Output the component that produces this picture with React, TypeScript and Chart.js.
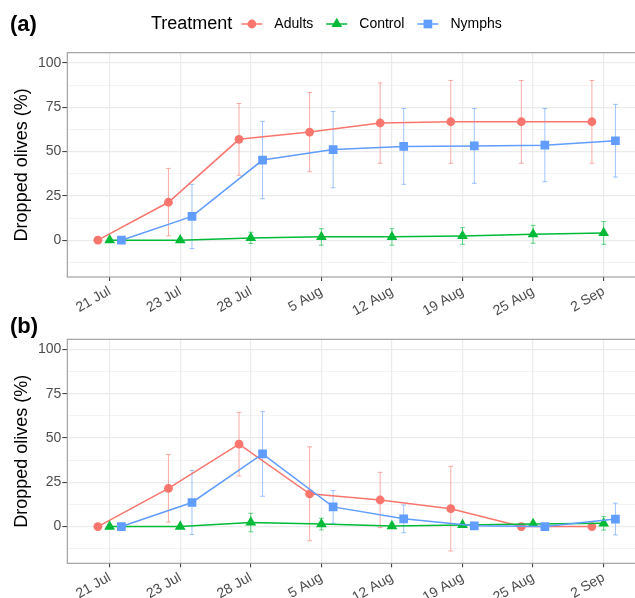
import React, { useEffect, useRef } from "react";
import { Chart, registerables } from "chart.js";

Chart.register(...registerables);

// ---------- data ----------
const categories = ["21 Jul", "23 Jul", "28 Jul", "5 Aug", "12 Aug", "19 Aug", "25 Aug", "2 Sep"];
const seriesNames = ["Adults", "Control", "Nymphs"];
const yTickValues = [-12.5, 0, 12.5, 25, 37.5, 50, 62.5, 75, 87.5, 100];
const yMajorTicks = [0, 25, 50, 75, 100];
const yTitle = "Dropped olives (%)";
const legendTitle = "Treatment";

// Panel (a)
const adultsA = [0, 21.4, 56.9, 61.0, 66.1, 66.8, 66.8, 66.8];
const adultsALow = [0, 2.4, 36.6, 38.6, 43.4, 43.4, 43.4, 43.4];
const adultsAHigh = [0, 40.5, 77.1, 83.3, 88.7, 90.1, 90.1, 90.1];
const controlA = [0, 0, 1.3, 1.9, 1.9, 2.4, 3.4, 4.1];
const controlALow = [0, 0, -1.9, -2.8, -2.8, -2.3, -1.7, -2.3];
const controlAHigh = [0, 0, 4.5, 6.5, 6.5, 7.1, 8.4, 10.5];
const nymphsA = [0, 13.4, 45.2, 51.1, 52.9, 53.2, 53.6, 56.1];
const nymphsALow = [0, -4.7, 23.4, 29.6, 31.5, 32.1, 33.0, 35.6];
const nymphsAHigh = [0, 31.5, 67.0, 72.6, 74.3, 74.3, 74.3, 76.6];

// Panel (b)
const adultsB = [0, 21.6, 46.5, 18.5, 15.0, 10.1, 0, 0];
const adultsBLow = [0, 2.5, 28.5, -8.0, -0.6, -13.8, 0, 0];
const adultsBHigh = [0, 40.7, 64.5, 45.0, 30.6, 34.0, 0, 0];
const controlB = [0, 0, 2.3, 1.4, 0.3, 0.9, 1.5, 1.8];
const controlBLow = [0, 0, -3.0, -1.9, 0.3, 0.9, 1.5, -2.0];
const controlBHigh = [0, 0, 7.5, 4.7, 0.3, 0.9, 1.5, 5.6];
const nymphsB = [0, 13.6, 41.0, 11.1, 4.35, 0.4, 0, 4.25];
const nymphsBLow = [0, -4.5, 17.1, 1.9, -3.5, 0.4, 0, -4.7];
const nymphsBHigh = [0, 31.7, 64.9, 20.3, 12.2, 0.4, 0, 13.2];

// ---------- styles ----------
const FONT = '"Liberation Sans", Arial, Helvetica, sans-serif';
const COLORS = ["#F8766D", "#00BA38", "#619CFF"];
const ERR_COLORS = ["rgba(248,118,109,0.6)", "rgba(0,186,56,0.6)", "rgba(97,156,255,0.6)"];
const DODGE = [-1 / 6, 0, 1 / 6];
const POINT_STYLES = ["circle", "triangle", "rect"];
const POINT_RADII = [4.4, 6.2, 6.15];
const CAP_HALF = 0.034;
const Y_MIN = -20.75;
const Y_MAX = 105.75;
const X_MIN = -0.6;
const X_MAX = 7.444;

const errorBarPlugin = {
  id: "errorBars",
  beforeDatasetsDraw(chart: any) {
    const { ctx } = chart;
    const xs = chart.scales.x;
    const ys = chart.scales.y;
    ctx.save();
    chart.data.datasets.forEach((ds: any) => {
      const lows = ds.errLow as number[];
      const highs = ds.errHigh as number[];
      if (!lows) return;
      ctx.strokeStyle = ds.errColor;
      ctx.lineWidth = 1;
      lows.forEach((lo, i) => {
        const hi = highs[i];
        if (lo === hi) return;
        const xv = i + ds.dodge;
        const px = xs.getPixelForValue(xv);
        const cap = xs.getPixelForValue(xv + CAP_HALF) - px;
        const y1 = ys.getPixelForValue(lo);
        const y2 = ys.getPixelForValue(hi);
        ctx.beginPath();
        ctx.moveTo(px, y1);
        ctx.lineTo(px, y2);
        ctx.moveTo(px - cap, y1);
        ctx.lineTo(px + cap, y1);
        ctx.moveTo(px - cap, y2);
        ctx.lineTo(px + cap, y2);
        ctx.stroke();
      });
    });
    ctx.restore();
  },
};

function drawMarker(ctx: CanvasRenderingContext2D, style: string, r: number, x: number, y: number) {
  ctx.beginPath();
  if (style === "circle") {
    ctx.arc(x, y, r, 0, Math.PI * 2);
  } else if (style === "triangle") {
    ctx.moveTo(x, y - r);
    ctx.lineTo(x + r * Math.sin((2 * Math.PI) / 3), y - r * Math.cos((2 * Math.PI) / 3));
    ctx.lineTo(x + r * Math.sin((4 * Math.PI) / 3), y - r * Math.cos((4 * Math.PI) / 3));
    ctx.closePath();
  } else {
    const s = r * Math.SQRT1_2;
    ctx.rect(x - s, y - s, 2 * s, 2 * s);
  }
  ctx.fill();
}

const panelPlugin = {
  id: "panelDeco",
  afterDraw(chart: any, _args: any, opts: any) {
    const { ctx, chartArea } = chart;
    ctx.save();
    ctx.strokeStyle = "#9a9a9a";
    ctx.lineWidth = 1.1;
    ctx.strokeRect(chartArea.left, chartArea.top, chartArea.right - chartArea.left + 4, chartArea.bottom - chartArea.top);
    // tag
    ctx.fillStyle = "#000";
    ctx.font = `bold 22px ${FONT}`;
    ctx.textAlign = "left";
    ctx.textBaseline = "middle";
    ctx.fillText(opts.tag, 10, opts.tagY);
    // legend
    if (opts.legend) {
      const y = opts.legendY;
      let x = 151;
      ctx.font = `18px ${FONT}`;
      ctx.fillText(legendTitle, x, y);
      x += ctx.measureText(legendTitle).width + 9;
      ctx.font = `14px ${FONT}`;
      seriesNames.forEach((name, k) => {
        ctx.strokeStyle = COLORS[k];
        ctx.lineWidth = 1.5;
        ctx.beginPath();
        ctx.moveTo(x, y);
        ctx.lineTo(x + 21, y);
        ctx.stroke();
        ctx.fillStyle = COLORS[k];
        drawMarker(ctx, POINT_STYLES[k], POINT_RADII[k], x + 10.5, y);
        ctx.fillStyle = "#000";
        ctx.fillText(name, x + 33, y);
        x += 33 + ctx.measureText(name).width + 13;
      });
    }
    ctx.restore();
  },
};

function makeDatasets(vals: number[][], lows: number[][], highs: number[][]) {
  return seriesNames.map((name, k) => ({
    label: name,
    data: vals[k].map((v, i) => ({ x: i + DODGE[k], y: v })),
    errLow: lows[k],
    errHigh: highs[k],
    errColor: ERR_COLORS[k],
    dodge: DODGE[k],
    borderColor: COLORS[k],
    backgroundColor: COLORS[k],
    pointBackgroundColor: COLORS[k],
    pointBorderColor: COLORS[k],
    pointBorderWidth: 0,
    pointStyle: POINT_STYLES[k],
    pointRadius: POINT_RADII[k],
    pointHoverRadius: POINT_RADII[k],
    borderWidth: 1.5,
    tension: 0,
    showLine: true,
    order: 2 - k,
  }));
}

function makeConfig(datasets: any[], padTop: number, xHeight: number, tag: string, tagY: number, legend: boolean) {
  return {
    type: "scatter" as const,
    data: { datasets },
    plugins: [errorBarPlugin, panelPlugin],
    options: {
      responsive: false,
      animation: false as const,
      devicePixelRatio: 1,
      layout: { autoPadding: false, padding: { top: padTop, left: 0, right: 0, bottom: 0 } },
      plugins: {
        legend: { display: false },
        tooltip: { enabled: false },
        panelDeco: { tag, tagY, legend, legendY: 24 },
      },
      scales: {
        x: {
          type: "linear" as const,
          min: X_MIN,
          max: X_MAX,
          afterBuildTicks: (s: any) => {
            s.ticks = categories.map((_, i) => ({ value: i }));
          },
          afterFit: (s: any) => {
            s.height = xHeight;
            s.paddingLeft = 0;
            s.paddingRight = 0;
          },
          border: { display: false },
          grid: { color: "#EBEBEB", lineWidth: 1.2, tickLength: 4, tickColor: "#333333", tickWidth: 1 },
          ticks: {
            autoSkip: false,
            maxRotation: 30,
            minRotation: 30,
            padding: 2,
            color: "#4D4D4D",
            font: { family: FONT, size: 14 },
            callback: (v: any) => categories[v] ?? "",
          },
        },
        y: {
          type: "linear" as const,
          min: Y_MIN,
          max: Y_MAX,
          afterBuildTicks: (s: any) => {
            s.ticks = yTickValues.map((v) => ({ value: v }));
          },
          afterFit: (s: any) => {
            s.width = 67.3;
            s.paddingTop = 0;
            s.paddingBottom = 0;
          },
          border: { display: false },
          grid: {
            color: "#EBEBEB",
            lineWidth: (c: any) => (yMajorTicks.includes(c.tick?.value) ? 1.2 : 0.6),
            tickLength: 5,
            tickColor: (c: any) => (yMajorTicks.includes(c.tick?.value) ? "#333333" : "rgba(0,0,0,0)"),
            tickWidth: 1,
          },
          ticks: {
            autoSkip: false,
            padding: 1,
            color: "#4D4D4D",
            font: { family: FONT, size: 14 },
            callback: (v: any) => (yMajorTicks.includes(v) ? String(v) : ""),
          },
          title: {
            display: true,
            text: yTitle,
            color: "#000",
            font: { family: FONT, size: 18 },
            padding: { top: 11.7, bottom: 0 },
          },
        },
      },
    },
  };
}

export default function App() {
  const refA = useRef<HTMLCanvasElement>(null);
  const refB = useRef<HTMLCanvasElement>(null);

  useEffect(() => {
    const chartA = new Chart(
      refA.current!,
      makeConfig(
        makeDatasets([adultsA, controlA, nymphsA], [adultsALow, controlALow, nymphsALow], [adultsAHigh, controlAHigh, nymphsAHigh]),
        52.7,
        43,
        "(a)",
        25,
        true
      ) as any
    );
    const chartB = new Chart(
      refB.current!,
      makeConfig(
        makeDatasets([adultsB, controlB, nymphsB], [adultsBLow, controlBLow, nymphsBLow], [adultsBHigh, controlBHigh, nymphsBHigh]),
        34.3,
        34.7,
        "(b)",
        22,
        false
      ) as any
    );
    return () => {
      chartA.destroy();
      chartB.destroy();
    };
  }, []);

  return (
    <div style={{ position: "absolute", left: 0, top: 0, width: 635, height: 598, background: "#fff" }}>
      <canvas ref={refA} width={635} height={320} style={{ position: "absolute", left: 0, top: 0 }} />
      <canvas ref={refB} width={635} height={293} style={{ position: "absolute", left: 0, top: 305 }} />
    </div>
  );
}
